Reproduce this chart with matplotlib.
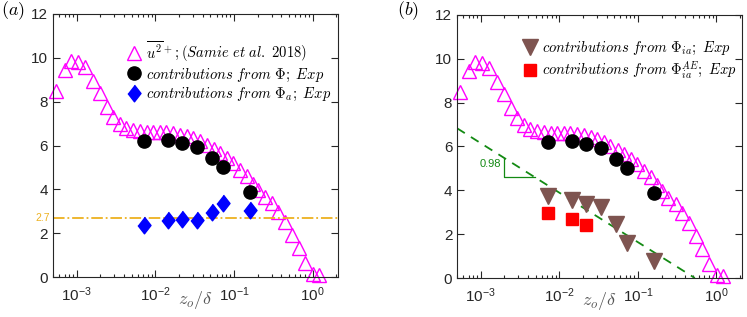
import numpy as np
import matplotlib
matplotlib.use("Agg")
import matplotlib.pyplot as plt
from matplotlib.ticker import FixedLocator, FuncFormatter, LogLocator, NullFormatter

# u2+ profile from Samie et al. 2018
samie_z = [5.50e-4, 7.08e-4, 8.51e-4, 1.05e-3, 1.29e-3, 1.59e-3, 1.95e-3,
           2.40e-3, 2.88e-3, 3.55e-3, 4.27e-3, 5.25e-3, 6.31e-3, 7.76e-3,
           9.33e-3, 1.15e-2, 1.38e-2, 1.70e-2, 2.04e-2, 2.51e-2, 3.02e-2,
           3.72e-2, 4.47e-2, 5.50e-2, 6.61e-2, 8.13e-2, 9.77e-2, 0.120,
           0.145, 0.174, 0.204, 0.245, 0.302, 0.363, 0.447, 0.543, 0.661,
           0.80, 1.02, 1.20]
samie_u2 = [8.5, 9.45, 9.85, 9.8, 9.6, 8.95, 8.4, 7.75, 7.3, 7.0, 6.8, 6.7,
            6.65, 6.6, 6.6, 6.6, 6.6, 6.55, 6.5, 6.45, 6.35, 6.2, 6.03, 5.85,
            5.65, 5.42, 5.19, 4.9, 4.6, 4.25, 3.97, 3.67, 3.37, 2.98, 2.53,
            1.92, 1.31, 0.63, 0.15, 0.1]

# experimental positions and contributions
exp_z = [7.1e-3, 1.43e-2, 2.19e-2, 3.34e-2, 5.2e-2, 7.2e-2, 0.158]
phi_u2 = [6.2, 6.25, 6.12, 5.93, 5.45, 5.0, 3.89]
phi_a_u2 = [2.36, 2.59, 2.66, 2.59, 2.97, 3.39, 3.04]
phi_ia_u2 = [3.74, 3.57, 3.39, 3.22, 2.45, 1.58, 0.76]
phi_ia_ae_z = [7.1e-3, 1.43e-2, 2.19e-2]
phi_ia_ae_u2 = [2.96, 2.69, 2.43]

PLATEAU = 2.7
SLOPE = 0.98
SLOPE_Z0 = 0.53      # where the log fit reaches zero
XLIM = (5.0e-4, 2.1)

MAGENTA = "#FF00FF"
ORANGE = "#EDB120"
GREEN = "#138A13"
BROWN = "#7E5450"
AXCOL = "#262626"

plt.rcParams["font.family"] = "Liberation Sans"
plt.rcParams["mathtext.fontset"] = "cm"


def log_fit(z):
    return -SLOPE * np.log(z / SLOPE_Z0)


def style_axes(ax):
    ax.set_xscale("log")
    ax.set_xlim(*XLIM)
    ax.set_ylim(0, 12)
    ax.xaxis.set_major_locator(FixedLocator([1e-3, 1e-2, 1e-1, 1e0]))
    ax.xaxis.set_major_formatter(
        FuncFormatter(lambda v, p: r"$\mathregular{10^{%d}}$" % round(np.log10(v))))
    ax.xaxis.set_minor_locator(LogLocator(base=10, subs=range(2, 10), numticks=20))
    ax.xaxis.set_minor_formatter(NullFormatter())
    ax.set_yticks(range(0, 13, 2))
    ax.tick_params(which="both", direction="in", top=True, right=True,
                   colors=AXCOL, labelsize=11, width=0.8)
    ax.tick_params(which="major", length=5)
    ax.tick_params(which="minor", length=2.5)
    ax.tick_params(axis="x", pad=6)
    for s in ax.spines.values():
        s.set_color(AXCOL)
        s.set_linewidth(0.8)
    ax.set_xlabel(r"$z_o/\delta$", fontsize=13, color="#555555")
    ax.xaxis.set_label_coords(0.5, -0.045)


def plot_samie(ax):
    h, = ax.plot(samie_z, samie_u2, "^", ls="none", mfc="none", mec=MAGENTA,
                 ms=9.5, mew=1.0, clip_on=False)
    return h


def plot_phi(ax):
    h, = ax.plot(exp_z, phi_u2, "o", ls="none", color="black", ms=9.5)
    return h


fig = plt.figure(figsize=(7.47, 3.17), dpi=100)
ax1 = fig.add_axes([0.071, 0.126, 0.3815, 0.830])
ax2 = fig.add_axes([0.612, 0.123, 0.381, 0.830])

# panel (a)
h_samie = plot_samie(ax1)
ax1.axhline(PLATEAU, color=ORANGE, ls="-.", lw=1.3)
h_phi = plot_phi(ax1)
h_phia, = ax1.plot(exp_z, phi_a_u2, ls="none", color="blue", ms=12,
                   marker=[(0, 1), (0.78, 0), (0, -1), (-0.78, 0)])
style_axes(ax1)
ax1.text(-0.012, PLATEAU, "2.7", color=ORANGE, fontsize=7.5, ha="right",
         va="center", transform=ax1.get_yaxis_transform())
ax1.legend([h_samie, h_phi, h_phia],
           [r"$\overline{u^2}^+;(Samie\ et\ al.\ 2018)$",
            r"$contributions\ from\ \Phi;\ Exp$",
            r"$contributions\ from\ \Phi_a;\ Exp$"],
           loc="upper left", bbox_to_anchor=(0.26, 0.903), frameon=False,
           fontsize=10.5, borderpad=0, borderaxespad=0, handlelength=1.0,
           handletextpad=0.3, labelspacing=0.15)

# panel (b)
plot_samie(ax2)
fit_z = [XLIM[0], SLOPE_Z0]
ax2.plot(fit_z, [log_fit(z) for z in fit_z], color=GREEN, ls=(0, (5, 4)), lw=1.3)
tri_z = [2.0e-3, 4.85e-3]
ax2.plot([tri_z[0], tri_z[0], tri_z[1]],
         [log_fit(tri_z[0]), log_fit(tri_z[1]), log_fit(tri_z[1])],
         color=GREEN, lw=0.9)
ax2.text(1.8e-3, 5.2, "0.98", color=GREEN, fontsize=8, ha="right", va="center")
plot_phi(ax2)
h_ia, = ax2.plot(exp_z, phi_ia_u2, "v", ls="none", color=BROWN, ms=11)
h_ae, = ax2.plot(phi_ia_ae_z, phi_ia_ae_u2, "s", ls="none", color="red", ms=8)
style_axes(ax2)
ax2.legend([h_ia, h_ae],
           [r"$contributions\ from\ \Phi_{ia};\ Exp$",
            r"$contributions\ from\ \Phi_{ia}^{AE};\ Exp$"],
           loc="upper left", bbox_to_anchor=(0.231, 0.905), frameon=False,
           fontsize=10.5, borderpad=0, borderaxespad=0, handlelength=1.0,
           handletextpad=0.3, labelspacing=0.15)

fig.text(0.002, 0.968, r"$(a)$", fontsize=13, va="center")
fig.text(0.531, 0.968, r"$(b)$", fontsize=13, va="center")

fig.savefig("out.png", dpi=100)
